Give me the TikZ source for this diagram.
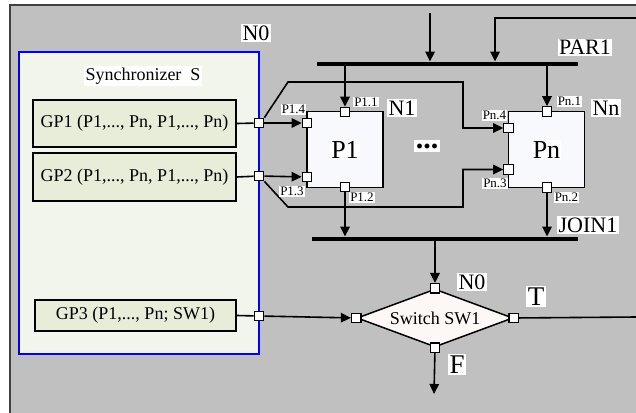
\documentclass[tikz,border=0pt]{standalone}
\usepackage{fontspec}
\setmainfont{Liberation Serif}
\usetikzlibrary{arrows.meta,shapes.geometric}
\definecolor{outergray}{HTML}{C0C0C0}
\definecolor{outerline}{HTML}{404040}
\definecolor{syncfill}{HTML}{F2F5EC}
\definecolor{gpfill}{HTML}{E8EDDA}
\definecolor{procfill}{HTML}{F8F9FD}
\definecolor{swfill}{HTML}{FDF8F5}
\newcommand{\fs}[1]{\fontsize{#1}{#1}\selectfont}
\tikzset{
  port/.style={rectangle, draw=black, fill=white, line width=1.3pt, minimum size=9.5pt, inner sep=0pt},
  gpbox/.style={rectangle, draw=black, fill=gpfill, line width=1.5pt, inner sep=0pt, font=\fs{18}},
  procbox/.style={rectangle, draw=black, fill=procfill, line width=1.5pt, minimum width=76pt, minimum height=76pt, inner sep=0pt},
  lbl/.style={fill=white, inner sep=1.5pt, font=\fs{22}},
  plbl/.style={fill=white, inner sep=1pt, font=\fs{13}},
  bigl/.style={fill=white, inner sep=1.5pt, font=\fs{27}},
  barnode/.style={rectangle, fill=black, inner sep=0pt, minimum height=4.5pt},
  conn/.style={line width=1.6pt, draw=black},
  arr/.style={conn, -{Triangle[length=10pt,width=9.5pt]}},
}
\begin{document}
\begin{tikzpicture}[x=1pt,y=-1pt]
\useasboundingbox (0,0) rectangle (636,412);
\clip (0,0) rectangle (636,412);
\fill[white] (0,0) rectangle (636,412);
% outer frame
\filldraw[fill=outergray, draw=outerline, line width=1.5pt] (10,5) rectangle (660,430);
% synchronizer
\filldraw[fill=syncfill, draw=blue, line width=1.4pt] (19,52) rectangle (259,354);
\node[lbl] (n0top) at (256,33) {N0};
\node[fill=white, inner sep=2pt, font=\fs{18}] (synch) at (143,76) {Synchronizer~ S};
\node[gpbox, minimum width=203pt, minimum height=47pt] (gp1) at (134.5,123.5) {GP1 (P1,..., Pn, P1,..., Pn)};
\node[gpbox, minimum width=203pt, minimum height=48pt] (gp2) at (134.5,177) {GP2 (P1,..., Pn, P1,..., Pn)};
\node[gpbox, minimum width=201pt, minimum height=31pt] (gp3) at (135.5,315.5) {GP3 (P1,..., Pn; SW1)};
% processes
\node[procbox] (p1) at (345,149.5) {};
\node[font=\fs{26}, fill=white, inner sep=1pt] (p1t) at (p1.center) {P1};
\node[procbox] (pn) at (546.5,149.5) {};
\node[font=\fs{26}, fill=white, inner sep=1pt] (pnt) at (pn.center) {Pn};
% bars
\node[barnode, minimum width=261pt] (par1) at (447.5,64) {};
\node[barnode, minimum width=266pt] (join1) at (445,239) {};
% switch
\node[diamond, draw=black, fill=swfill, line width=1.5pt, minimum width=156pt, minimum height=58pt, aspect=2.69, inner sep=0pt, font=\fs{18}] (sw) at (435,318) {Switch SW1};
% connectors from GP boxes
\node[port] (g1) at (259,123) {};
\node[port] (g2) at (259,176) {};
\node[port] (g3) at (259,316) {};
\draw[conn] (gp1.east) -- (g1);
\draw[conn] (gp2.east) -- (g2);
\draw[conn] (gp3.east) -- (g3);
% ports on P1 and Pn
\node[port] (p11) at (345,112) {};
\node[port] (p12) at (345,187) {};
\node[port] (p13) at (307,177) {};
\node[port] (p14) at (307,123) {};
\node[port] (pn1) at (547,111.5) {};
\node[port] (pn2) at (547,187.5) {};
\node[port] (pn3) at (508.5,169.5) {};
\node[port] (pn4) at (508.5,128) {};
% switch ports
\node[port] (swn) at (sw.north) {};
\node[port] (sws) at (sw.south) {};
\node[port] (swe) at (sw.east) {};
\node[port] (sww) at (sw.west) {};
% routing coordinates
\coordinate (a1) at (288,82);
\coordinate (a2) at (463,82);
\coordinate (b1) at (288,207);
\coordinate (b2) at (463,207);
\coordinate (t1) at (430,13);
\coordinate (t2) at (636,18);
\coordinate (t3) at (495,18);
\coordinate (rout) at (636,317);
\coordinate (fout) at (434,394);
% arrows
\draw[arr] (g1) -- (p14);
\draw[arr] (g2) -- (p13);
\draw[arr] (g1.north east) -- (a1) -- (a2) |- (pn4);
\draw[arr] (g2.south east) -- (b1) -- (b2) |- (pn3);
\draw[arr] (t1) -- (t1 |- par1.north);
\draw[arr] (t2) -- (t3) -- (t3 |- par1.north);
\draw[arr] (p11 |- par1.south) -- (p11);
\draw[arr] (pn1 |- par1.south) -- (pn1);
\draw[arr] (p12) -- (p12 |- join1.north);
\draw[arr] (pn2) -- (pn2 |- join1.north);
\draw[arr] (swn |- join1.south) -- (swn);
\draw[arr] (g3) -- (sww);
\draw[conn] (swe) -- (rout);
\draw[arr] (sws) -- (fout);
% redraw ports on top
\foreach \p in {g1,g2,g3,p11,p12,p13,p14,pn1,pn2,pn3,pn4,swn,sws,swe,sww}
  \node[port] at (\p) {};
% labels
\node[lbl] (par1l) at (585,47.5) {PAR1};
\node[lbl] (n1l) at (402,108) {N1};
\node[lbl] (nnl) at (606,108) {Nn};
\node[fill=white, inner xsep=1.5pt, inner ysep=4pt, font=\fs{30}\bfseries] (dots) at (427,146) {...};
\node[lbl] (join1l) at (588,225) {JOIN1};
\node[lbl] (n0sw) at (472,282) {N0};
\node[bigl] (tl) at (536,296.5) {T};
\node[bigl] (fl) at (457,364.5) {F};
\node[plbl] (l11) at (366,102) {P1.1};
\node[plbl] (l12) at (362,197.5) {P1.2};
\node[plbl] (l13) at (292,191.5) {P1.3};
\node[plbl] (l14) at (293.5,109.5) {P1.4};
\node[plbl] (ln1) at (569.5,101.5) {Pn.1};
\node[plbl] (ln2) at (566.5,197.5) {Pn.2};
\node[plbl] (ln3) at (495,183.5) {Pn.3};
\node[plbl] (ln4) at (494.5,115.5) {Pn.4};
\end{tikzpicture}
\end{document}
